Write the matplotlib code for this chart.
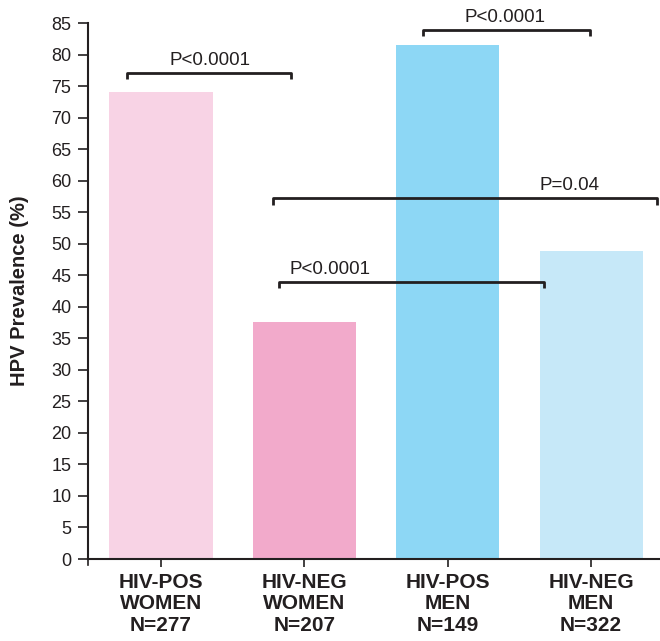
import matplotlib
matplotlib.use("Agg")
import matplotlib.pyplot as plt

categories = ["HIV-POS\nWOMEN\nN=277", "HIV-NEG\nWOMEN\nN=207", "HIV-POS\nMEN\nN=149", "HIV-NEG\nMEN\nN=322"]
values = [74, 37.6, 81.5, 48.8]
colors = ["#f8d3e5", "#f2aacb", "#8dd7f5", "#c6e8f8"]
yticks = list(range(0, 90, 5))
# brackets: (x_left, x_right, y, label, label_x)
brackets = [
    (-0.24, 0.91, 77.1, "P<0.0001", 0.34),
    (1.83, 2.99, 83.9, "P<0.0001", 2.40),
    (0.78, 3.46, 57.2, "P=0.04", 2.85),
    (0.82, 2.67, 43.9, "P<0.0001", 1.18),
]

plt.rcParams['font.family'] = ['Liberation Sans', 'DejaVu Sans']
txt = "#231f20"

fig = plt.figure(figsize=(6.6, 6.41), dpi=100)
ax = fig.add_axes([88/660, 82/641, 1 - 88/660, (559-23)/641])
x = list(range(len(categories)))
ax.bar(x, values, width=0.72, color=colors, zorder=1)
ax.set_xlim(-0.509, 3.48)
ax.set_ylim(0, 85)
ax.set_yticks(yticks)
ax.set_xticks(x)
ax.set_xticklabels(categories, fontsize=15, fontweight='bold', color=txt, linespacing=1.17)
ax.tick_params(axis='y', labelsize=13, colors=txt, length=7, width=1.2, pad=5)
ax.tick_params(axis='x', length=6, width=1.2, colors=txt, pad=4)
for lab in ax.get_yticklabels():
    lab.set_color(txt)
ax.spines['top'].set_visible(False)
ax.spines['right'].set_visible(False)
ax.spines['left'].set_linewidth(1.5)
ax.spines['bottom'].set_linewidth(1.5)
ax.spines['left'].set_color(txt)
ax.spines['bottom'].set_color(txt)
ax.set_ylabel("HPV Prevalence (%)", fontsize=14.5, fontweight='bold', color=txt, labelpad=16)
ax.plot([0, 0], [0, -0.012], transform=ax.transAxes, color=txt, lw=1.2, clip_on=False)

for xl, xr, y, lab, lx in brackets:
    ax.plot([xl, xl, xr, xr], [y - 1.0, y, y, y - 1.0], color=txt, lw=2,
            solid_joinstyle='round', solid_capstyle='butt', clip_on=False, zorder=3)
    ax.text(lx, y + 2.0, lab, ha='center', va='center', fontsize=13.5, color=txt, zorder=3)

fig.savefig("out.png", dpi=100)
